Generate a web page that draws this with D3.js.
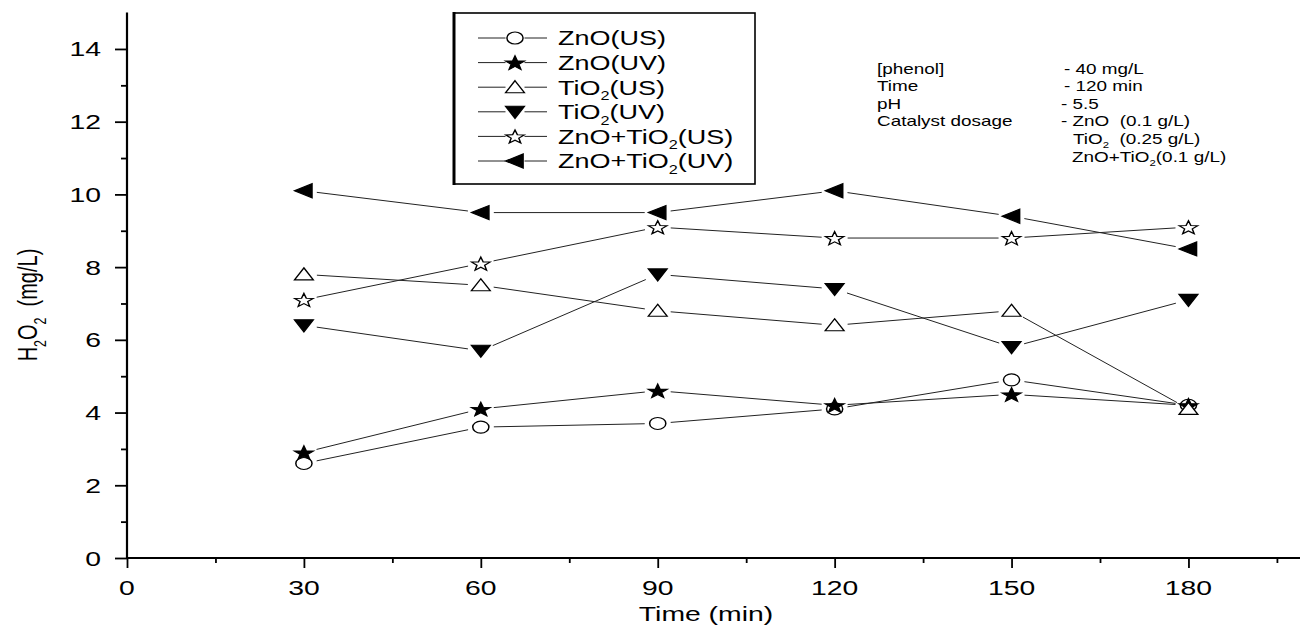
<!DOCTYPE html>
<html>
<head>
<meta charset="utf-8">
<script src="https://cdn.jsdelivr.net/npm/d3@7"></script>
<style>
  html, body { margin: 0; padding: 0; background: #fff; }
  svg { display: block; }
  text { font-family: "Liberation Sans", Arial, sans-serif; fill: #000; white-space: pre; }
</style>
</head>
<body>
<svg id="chart" width="1300" height="631"></svg>
<script>
// Sampling times (min)
const times = [30, 60, 90, 120, 150, 180];

// H2O2 concentration (mg/L) for each process
const znoUS      = [2.6, 3.6, 3.7, 4.1, 4.9, 4.2];
const znoUV      = [2.9, 4.1, 4.6, 4.2, 4.5, 4.2];
const tio2US     = [7.8, 7.5, 6.8, 6.4, 6.8, 4.1];
const tio2UV     = [6.4, 5.7, 7.8, 7.4, 5.8, 7.1];
const mixUS      = [7.1, 8.1, 9.1, 8.8, 8.8, 9.1];
const mixUV      = [10.1, 9.5, 9.5, 10.1, 9.4, 8.5];

// Axis ticks
const xMajorTicks = [0, 30, 60, 90, 120, 150, 180];
const xMinorTicks = [15, 45, 75, 105, 135, 165, 195];
const yMajorTicks = [0, 2, 4, 6, 8, 10, 12, 14];
const yMinorTicks = [1, 3, 5, 7, 9, 11, 13];

// Legend labels as [text, isSubscript] pieces
const seriesLabels = [
  [["ZnO(US)", false]],
  [["ZnO(UV)", false]],
  [["TiO", false], ["2", true], ["(US)", false]],
  [["TiO", false], ["2", true], ["(UV)", false]],
  [["ZnO+TiO", false], ["2", true], ["(US)", false]],
  [["ZnO+TiO", false], ["2", true], ["(UV)", false]]
];
const seriesMarkers = ["circle", "star", "triUp", "triDown", "starOpen", "triLeft"];
const seriesValues = [znoUS, znoUV, tio2US, tio2UV, mixUS, mixUV];

// Experimental conditions note
const conditionKeys = ["[phenol]", "Time", "pH", "Catalyst dosage"];
const conditionVals = [
  [["- 40 mg/L", false]],
  [["- 120 min", false]],
  [["- 5.5", false]],
  [["- ZnO  (0.1 g/L)", false]],
  [["TiO", false], ["2", true], ["  (0.25 g/L)", false]],
  [["ZnO+TiO", false], ["2", true], ["(0.1 g/L)", false]]
];

const SX = 1.35; // horizontal glyph stretch
const svg = d3.select("#chart");

const x = d3.scaleLinear().domain([0, 199]).range([127, 1300.5]);
const y = d3.scaleLinear().domain([0, 15]).range([558, 12.6]);

// ---- marker shapes (unstretched units) ----
function starPath(R, r) {
  const pts = [];
  for (let i = 0; i < 10; i++) {
    const a = -Math.PI / 2 + i * Math.PI / 5;
    const rad = i % 2 === 0 ? R : r;
    pts.push([rad * Math.cos(a), rad * Math.sin(a) + 0.8]);
  }
  return "M" + pts.map(p => p[0].toFixed(2) + "," + p[1].toFixed(2)).join("L") + "Z";
}
const shapes = {
  circle:   { d: "M-6,0A6,6 0 1,0 6,0A6,6 0 1,0 -6,0Z", fill: "#fff" },
  star:     { d: starPath(7.4, 3.0), fill: "#000" },
  triUp:    { d: "M0,-6.5L7,5.5L-7,5.5Z", fill: "#fff" },
  triDown:  { d: "M-7,-5.5L7,-5.5L0,6.5Z", fill: "#000" },
  starOpen: { d: starPath(7.2, 3.0), fill: "#fff" },
  triLeft:  { d: "M-7,0L6,-7L6,7Z", fill: "#000" }
};

function drawMarker(g, kind, cx, cy) {
  const s = shapes[kind];
  g.append("path")
    .attr("d", s.d)
    .attr("transform", `translate(${cx},${cy}) scale(${SX},1)`)
    .attr("fill", s.fill)
    .attr("stroke", "#000")
    .attr("stroke-width", 1.1)
    .attr("stroke-linejoin", "miter");
}

// text with optional subscript pieces
function richText(g, pieces, tx, ty, size, anchor) {
  const t = g.append("text")
    .attr("transform", `translate(${tx},${ty}) scale(${SX},1)`)
    .attr("font-size", size)
    .attr("text-anchor", anchor || "start");
  let shifted = false;
  const drop = size * 0.27;
  pieces.forEach(([str, sub]) => {
    const ts = t.append("tspan").text(str);
    if (sub && !shifted) { ts.attr("font-size", size * 0.6).attr("dy", drop); shifted = true; }
    else if (!sub && shifted) { ts.attr("dy", -drop); shifted = false; }
  });
  return t;
}

// ---- series lines (broken around markers) ----
const GAP = 13;
const plot = svg.append("g");
seriesValues.forEach((vals, si) => {
  const pts = vals.map((v, i) => [x(times[i]), y(v)]);
  for (let i = 0; i < pts.length - 1; i++) {
    const [x1, y1] = pts[i], [x2, y2] = pts[i + 1];
    const len = Math.hypot(x2 - x1, y2 - y1);
    const ux = (x2 - x1) / len, uy = (y2 - y1) / len;
    plot.append("line")
      .attr("x1", x1 + ux * GAP).attr("y1", y1 + uy * GAP)
      .attr("x2", x2 - ux * GAP).attr("y2", y2 - uy * GAP)
      .attr("stroke", "#222").attr("stroke-width", 1);
  }
  pts.forEach(p => drawMarker(plot, seriesMarkers[si], p[0], p[1]));
});

// ---- axes ----
const axisG = svg.append("g");
const xAxis = axisG.append("g").attr("transform", `translate(0,${y(0)})`)
  .call(d3.axisBottom(x).tickValues(xMajorTicks).tickSize(10).tickFormat(""));
const xMinor = axisG.append("g").attr("transform", `translate(0,${y(0)})`)
  .call(d3.axisBottom(x).tickValues(xMinorTicks).tickSize(5).tickFormat(""));
const yAxis = axisG.append("g").attr("transform", `translate(${x(0)},0)`)
  .call(d3.axisLeft(y).tickValues(yMajorTicks).tickSize(12).tickFormat(""));
const yMinor = axisG.append("g").attr("transform", `translate(${x(0)},0)`)
  .call(d3.axisLeft(y).tickValues(yMinorTicks).tickSize(6).tickFormat(""));

[xMinor, yMinor].forEach(a => a.select(".domain").remove());
[xAxis, yAxis].forEach(a => a.select(".domain")
  .attr("stroke", "#000").attr("stroke-width", 2.2));
// plain axis lines without end caps
xAxis.select(".domain").attr("d", `M${x(0) - 1},0H1300`);
yAxis.select(".domain").attr("d", `M0,${y(0) + 1}V${y(15)}`);
axisG.selectAll(".tick line").attr("stroke", "#000").attr("stroke-width", 1.8);

// x tick labels
xMajorTicks.forEach(v => {
  axisG.append("text")
    .attr("transform", `translate(${x(v)},595) scale(${SX},1)`)
    .attr("text-anchor", "middle").attr("font-size", 21)
    .text(v);
});
// y tick labels
yMajorTicks.forEach(v => {
  axisG.append("text")
    .attr("transform", `translate(101,${y(v) + 7.5}) scale(${SX},1)`)
    .attr("text-anchor", "end").attr("font-size", 21)
    .text(v);
});

// axis titles
axisG.append("text")
  .attr("transform", `translate(706,621) scale(${SX},1)`)
  .attr("text-anchor", "middle").attr("font-size", 21)
  .text("Time (min)");

const yt = axisG.append("text")
  .attr("transform", `translate(37,305) scale(${SX},1) rotate(-90)`)
  .attr("text-anchor", "middle").attr("font-size", 20);
yt.append("tspan").text("H");
yt.append("tspan").text("2").attr("font-size", 12.4).attr("dy", 6.4);
yt.append("tspan").text("O").attr("dy", -6.4);
yt.append("tspan").text("2").attr("font-size", 12.4).attr("dy", 6.4);
yt.append("tspan").text("  (mg/L)").attr("dy", -6.4);

// ---- legend ----
const leg = svg.append("g");
leg.append("rect")
  .attr("x", 454).attr("y", 13).attr("width", 301).attr("height", 171)
  .attr("fill", "#fff").attr("stroke", "#000").attr("stroke-width", 1.6);
leg.append("line").attr("x1", 454).attr("x2", 454).attr("y1", 12).attr("y2", 185)
  .attr("stroke", "#000").attr("stroke-width", 3);

seriesLabels.forEach((lab, i) => {
  const cy = 38 + i * 24.6;
  const half = 9.5;
  leg.append("line").attr("x1", 478).attr("x2", 515 - half).attr("y1", cy).attr("y2", cy)
    .attr("stroke", "#222").attr("stroke-width", 1);
  leg.append("line").attr("x1", 515 + half).attr("x2", 547).attr("y1", cy).attr("y2", cy)
    .attr("stroke", "#222").attr("stroke-width", 1);
  drawMarker(leg, seriesMarkers[i], 515, cy);
  richText(leg, lab, 558, cy + 7.3, 20);
});

// ---- conditions note ----
const note = svg.append("g");
const rowY = [74, 91, 108.5, 126, 144, 162];
conditionKeys.forEach((k, i) => {
  richText(note, [[k, false]], 877, rowY[i], 14);
});
const valX = [1064, 1064, 1061, 1061, 1073, 1072];
conditionVals.forEach((v, i) => {
  richText(note, v, valX[i], rowY[i], 14);
});
</script>
</body>
</html>
